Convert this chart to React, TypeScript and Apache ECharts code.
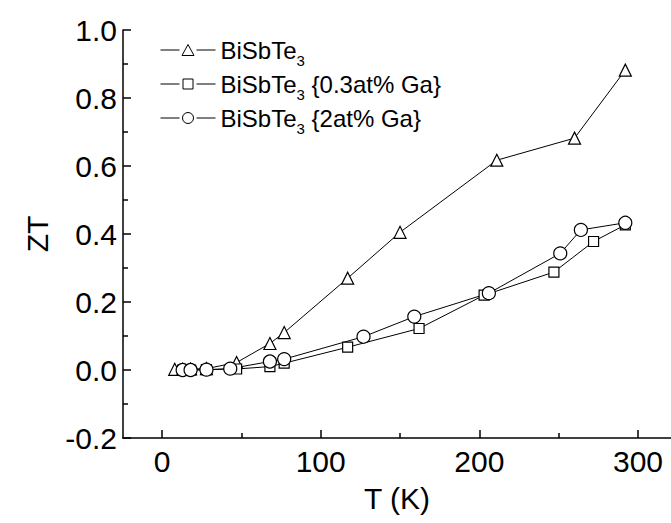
import React, { useEffect, useRef } from "react";
import * as echarts from "echarts";

const seriesNames = ["BiSbTe3", "BiSbTe3 {0.3at% Ga}", "BiSbTe3 {2at% Ga}"];
const legendLabels = ["BiSbTe{sub|3}", "BiSbTe{sub|3} {0.3at% Ga}", "BiSbTe{sub|3} {2at% Ga}"];
const symbols = ["triangle", "rect", "circle"];

const pureT = [8, 13, 18, 28, 47, 68, 77, 117, 150, 211, 260, 292];
const pureZT = [0.002, 0.002, 0.003, 0.004, 0.022, 0.078, 0.11, 0.27, 0.405, 0.617, 0.682, 0.882];

const ga03T = [13, 18, 28, 47, 68, 77, 117, 162, 203, 247, 272, 292];
const ga03ZT = [0, 0, 0.001, 0.003, 0.01, 0.02, 0.067, 0.122, 0.22, 0.288, 0.378, 0.427];

const ga2T = [13, 18, 28, 43, 68, 77, 127, 159, 206, 251, 264, 292];
const ga2ZT = [0, 0, 0.001, 0.004, 0.025, 0.032, 0.098, 0.157, 0.226, 0.343, 0.412, 0.433];

const xMajorTicks = [0, 100, 200, 300];
const xMinorTicks = [50, 150, 250];

const FONT = "Liberation Sans, Arial, sans-serif";

const legendIcons = [
  "path://M0 6H19M27.5 0.5L33.5 11.5L21.5 11.5ZM36 6H55",
  "path://M0 6H19M22.5 1H32.5V11H22.5ZM36 6H55",
  "path://M0 6H19M22 6A5.5 5.5 0 1 0 33 6A5.5 5.5 0 1 0 22 6ZM36 6H55",
];

export default function App() {
  const ref = useRef<HTMLDivElement>(null);
  useEffect(() => {
    document.body.style.margin = "0";
    const chart = echarts.init(ref.current!, null, { renderer: "svg" });
    const zip = (xs: number[], ys: number[]) => xs.map((x, i) => [x, ys[i]]);
    const datasets = [zip(pureT, pureZT), zip(ga03T, ga03ZT), zip(ga2T, ga2ZT)];
    const sizes = [12, 10, 13];
    const xMin = -24.6;
    const xMax = 320.8;
    const axisCommon = {
      min: xMin,
      max: xMax,
      type: "value" as const,
      splitLine: { show: false },
    };
    chart.setOption({
      animation: false,
      backgroundColor: "#fff",
      textStyle: { fontFamily: FONT },
      grid: { left: 123, right: 0, top: 30, bottom: 85, containLabel: false },
      legend: {
        left: 155,
        top: 27,
        orient: "vertical",
        itemWidth: 55,
        itemHeight: 12,
        itemGap: -2,
        data: seriesNames.map((n, i) => ({ name: n, icon: legendIcons[i] })),
        itemStyle: { color: "#fff", borderColor: "#000", borderWidth: 1 },
        formatter: (name: string) => legendLabels[seriesNames.indexOf(name)],
        textStyle: {
          color: "#000",
          fontFamily: FONT,
          fontSize: 24,
          lineHeight: 36,
          rich: {
            sub: { fontSize: 15, fontFamily: FONT, color: "#000", verticalAlign: "bottom", lineHeight: 6 },
          },
        },
      },
      xAxis: [
        {
          ...axisCommon,
          name: "T (K)",
          nameLocation: "middle",
          nameGap: 45,
          nameTextStyle: { fontSize: 30, color: "#000", fontFamily: FONT },
          axisLine: { show: true, onZero: false, lineStyle: { color: "#000", width: 1.5 } },
          axisTick: { show: true, inside: true, length: 8, customValues: xMajorTicks, lineStyle: { color: "#000", width: 1.5 } },
          axisLabel: { show: true, customValues: xMajorTicks, fontSize: 30, color: "#000", margin: 8, fontFamily: FONT },
        },
        {
          ...axisCommon,
          position: "bottom",
          axisLine: { show: false, onZero: false },
          axisTick: { show: true, inside: true, length: 5, customValues: xMinorTicks, lineStyle: { color: "#000", width: 1.5 } },
          axisLabel: { show: false },
        },
      ],
      yAxis: {
        type: "value",
        min: -0.2,
        max: 1.0,
        interval: 0.2,
        name: "ZT",
        nameLocation: "middle",
        nameGap: 71,
        nameTextStyle: { fontSize: 30, color: "#000", fontFamily: FONT },
        splitLine: { show: false },
        axisLine: { show: true, onZero: false, lineStyle: { color: "#000", width: 1.5 } },
        axisTick: { show: true, inside: true, length: 8, lineStyle: { color: "#000", width: 1.5 } },
        minorTick: { show: true, splitNumber: 2, length: 5, lineStyle: { color: "#000", width: 1.5 } },
        axisLabel: {
          fontSize: 30,
          color: "#000",
          margin: 6,
          fontFamily: FONT,
          formatter: (v: number) => v.toFixed(1),
        },
      },
      series: datasets.map((d, i) => ({
        name: seriesNames[i],
        type: "line",
        xAxisIndex: 0,
        data: d,
        symbol: symbols[i],
        symbolSize: sizes[i],
        showAllSymbol: true,
        lineStyle: { color: "#000", width: 1 },
        itemStyle: { color: "#fff", borderColor: "#000", borderWidth: 1.2 },
        emphasis: { disabled: true },
      })),
    });
    return () => chart.dispose();
  }, []);
  return <div ref={ref} style={{ width: 671, height: 523 }} />;
}
